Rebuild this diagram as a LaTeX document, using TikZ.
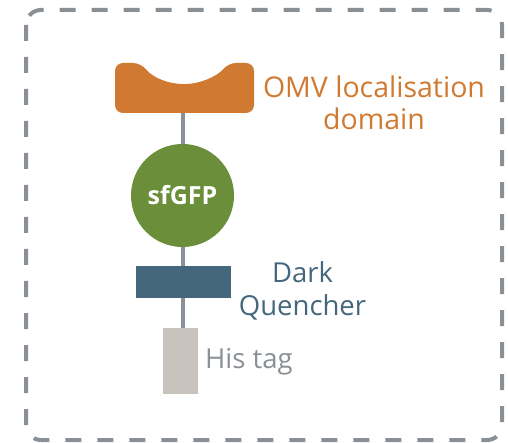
\documentclass[tikz,border=0pt]{standalone}
\usepackage{fontspec}
\setmainfont{Open Sans}
\definecolor{omvorange}{HTML}{D07A31}
\definecolor{gfpgreen}{HTML}{6A8E3A}
\definecolor{dqblue}{HTML}{44677D}
\definecolor{hisgrey}{HTML}{C7C2BB}
\definecolor{linkgrey}{HTML}{8A9095}
\begin{document}
\begin{tikzpicture}[x=1pt,y=-1pt,
        link/.style={draw=linkgrey,line width=4pt},
        part/.style={inner sep=0pt,outer sep=0pt},
        tag/.style={font=\fontsize{27.5}{32.5}\selectfont,align=center,inner sep=0pt}]
                \def\mx{182.5};
                \useasboundingbox (0,0) rectangle (508,443);
                % frame
                \draw[linkgrey,line width=4pt,dash pattern=on 16pt off 16pt,rounded corners=15pt] (26,10) rectangle (502,440);
                % construct
                \node[part,minimum width=139pt,minimum height=50pt] (omv) at (184.5,88) {};
                \fill[omvorange,rounded corners=8pt] (141,63) arc[start angle=141.6,end angle=38.4,radius=55.5] -- (254,63) -- (254,113) -- (115,113) -- (115,63) -- cycle;
                \node[part,circle,fill=gfpgreen,minimum size=103pt,text=white,font=\fontsize{25}{29}\selectfont\bfseries] (gfp) at (\mx,195.5) {sfGFP};
                \node[part,fill=dqblue,minimum width=95pt,minimum height=32pt] (dq) at (183.5,282) {};
                \node[part,fill=hisgrey,minimum width=35pt,minimum height=66pt] (his) at (180.5,361) {};
                \foreach \a/\b in {omv/gfp,gfp/dq,dq/his}{
                    \draw[link] (\a.south -| \mx,0) -- (\b.north -| \mx,0);}
                % labels
                \node[tag,text=omvorange,font=\fontsize{28.5}{32.5}\selectfont] (omvtext) at (374,103) {OMV localisation\\domain};
                \node[tag,text=dqblue] (dqtext) at (302.5,291) {Dark\\Quencher};
                \node[tag,text=linkgrey,anchor=base west] (histext) at (205,368) {His tag};
            \end{tikzpicture}
\end{document}
